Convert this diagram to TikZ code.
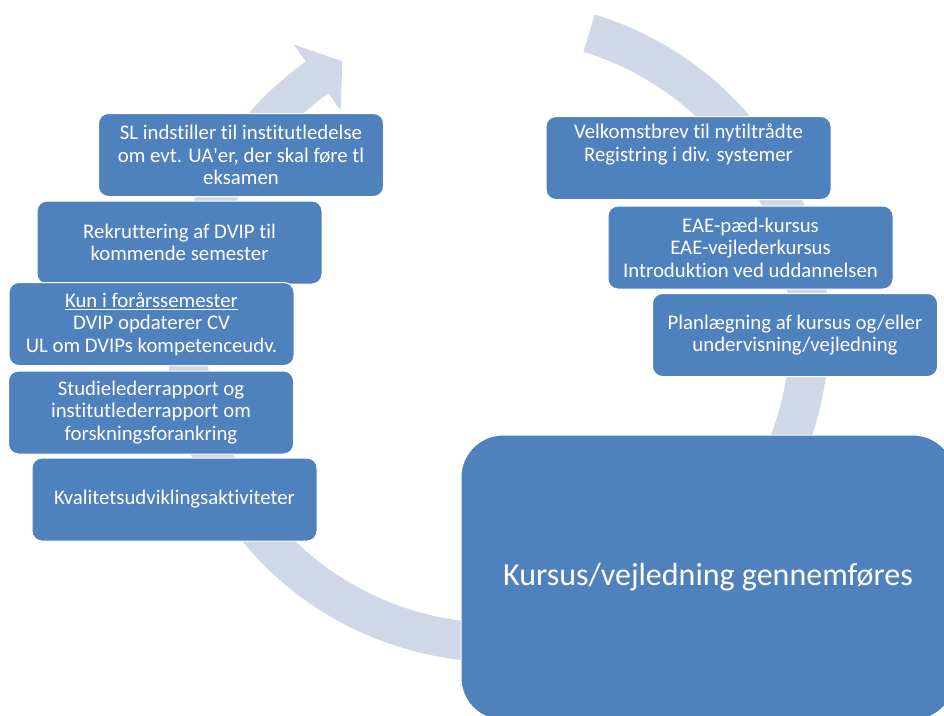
\documentclass[tikz,border=0pt]{standalone}
\usepackage{fontspec}
\newfontfamily\boxfont{Carlito}[Ligatures=NoCommon]
\usetikzlibrary{calc}
\definecolor{boxblue}{RGB}{79,129,189}
\definecolor{cyclegrey}{RGB}{208,216,232}
\tikzset{
	stepbox/.style={rounded corners=7.5pt, fill=boxblue, draw=white, line width=0.75pt, text=white, align=center, inner sep=0pt, minimum width=213.75pt, minimum height=62.25pt, font=\boxfont\fontsize{15.6}{16.9}\selectfont},
	bigbox/.style={stepbox, rounded corners=31.5pt, minimum width=370.5pt, minimum height=213.75pt, font=\boxfont\fontsize{24}{28}\selectfont}
}
\begin{document}
\begin{tikzpicture}[x=0.75pt,y=0.75pt,yscale=-1,xscale=1]
				\useasboundingbox (0,0) rectangle (944,715);
				\clip (0,0) rectangle (944,715);
				
				%Circular Arrow
				\coordinate (hub) at (498,331);
				\fill [cyclegrey] ($(hub)+(-73:331)$) arc [start angle=-73, end angle=234.5, radius=331] -- ($(hub)+(234.5:352)$) -- ($(hub)+(240:311.5)$) -- ($(hub)+(234.5:271)$) -- ($(hub)+(234.5:292)$) arc [start angle=234.5, end angle=-73, radius=292] -- cycle ;
				
				%Rounded Rect left column
				\node (sl) at (241,155) [stepbox] {SL indstiller til institutledelse\\om evt. UA'er, der skal føre tl\\eksamen};
				\node (rekrut) at (179.5,242.5) [stepbox] {Rekruttering af DVIP til\\kommende semester};
				\node (foraar) at (151.5,324) [stepbox] {\underline{Kun i forårssemester}\\DVIP opdaterer CV\\UL om DVIPs kompetenceudv.};
				\node (rapport) at (151,412.5) [stepbox] {Studielederrapport og\\institutlederrapport om\\forskningsforankring};
				\node (kvalitet) at (174.5,499.5) [stepbox] {Kvalitetsudviklingsaktiviteter};
				
				%Rounded Rect right column
				\node (velkomst) at (688.5,158) [stepbox] {Velkomstbrev til nytiltrådte\\Registring i div. systemer\\[6.5pt]\mbox{}};
				\node (eae) at (750.5,247.5) [stepbox] {EAE-pæd-kursus\\EAE-vejlederkursus\\Introduktion ved uddannelsen};
				\node (plan) at (795,335) [stepbox] {Planlægning af kursus og/eller\\undervisning/vejledning};
				
				%Big Rounded Rect
				\node (kursus) at (708,577.5) [bigbox] {Kursus/vejledning gennemføres};
\end{tikzpicture}
\end{document}
